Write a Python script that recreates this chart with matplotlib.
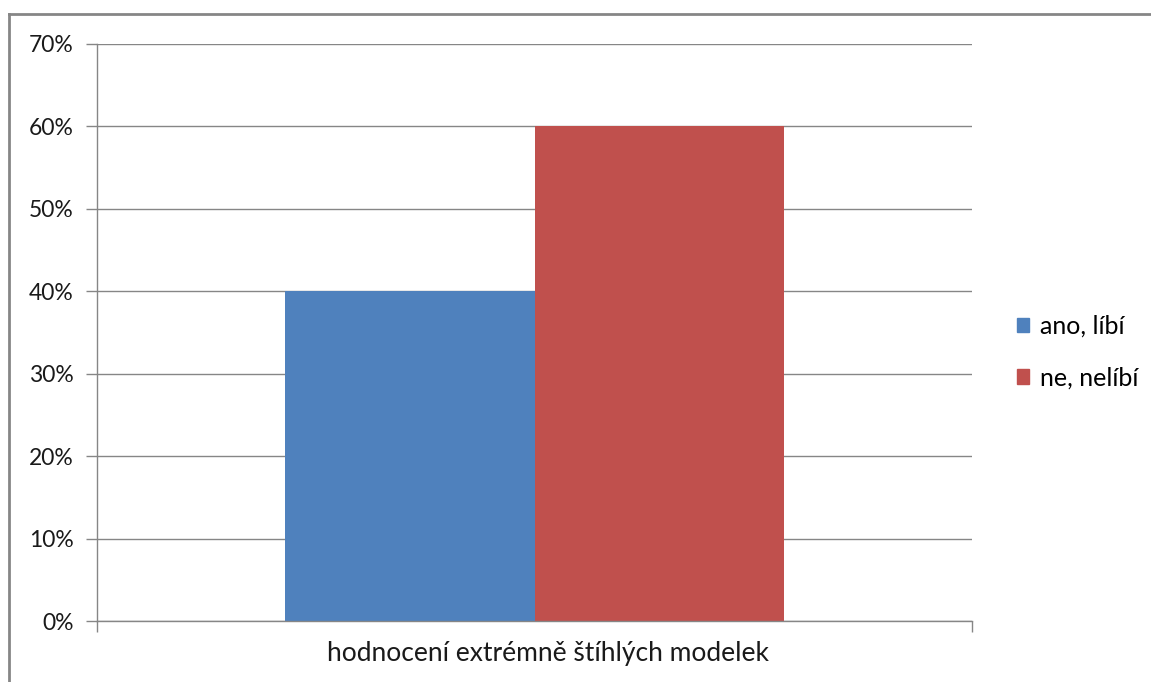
import matplotlib.pyplot as plt
from matplotlib.patches import Patch
from matplotlib.lines import Line2D
from matplotlib.ticker import FuncFormatter

category = 'hodnocení extrémně štíhlých modelek'
series = ['ano, líbí', 'ne, nelíbí']
values = [0.40, 0.60]
colors = ['#4F81BD', '#C0504D']

plt.rcParams['font.family'] = ['Lato', 'DejaVu Sans']
grid_col = '#868686'
txt_col = '#1a1a1a'

fig = plt.figure(figsize=(11.51, 6.82), dpi=100)
ax = fig.add_axes([97/1151, 1-621/682, (972-97)/1151, (621-44)/682])

# two clustered bars around the single category
bw = 0.285
for i, (name, v, c) in enumerate(zip(series, values, colors)):
    ax.bar(0.5 + (i - 0.5) * bw, v, width=bw, color=c, label=name, zorder=2)

ax.set_xlim(0, 1)
ax.set_ylim(0, 0.7)
ax.set_yticks([i/10 for i in range(8)])
ax.yaxis.set_major_formatter(FuncFormatter(lambda y, _: f'{y*100:.0f}%'))
ax.grid(axis='y', color=grid_col, lw=1, zorder=0)
ax.set_xticks([0, 1])
ax.set_xticklabels(['', ''])
ax.text(0.515, -0.035, category, transform=ax.transAxes, ha='center', va='top', fontsize=19, color=txt_col)

for s in ['top', 'right']:
    ax.spines[s].set_visible(False)
for s in ['left', 'bottom']:
    ax.spines[s].set_color(grid_col)
    ax.spines[s].set_linewidth(1)
ax.tick_params(axis='both', color=grid_col, length=8, width=1, labelsize=16.5, labelcolor=txt_col)
ax.tick_params(axis='y', pad=9)

handles = [Patch(color=c) for c in colors]
fig.legend(handles, series, loc='center left', bbox_to_anchor=(994/1151, 1-352/682),
           frameon=False, fontsize=18, handlelength=0.5, handleheight=0.5,
           handletextpad=0.45, labelspacing=1.15)

# outer chart frame (top and left edges)
fig.add_artist(Line2D([9/1151, 9/1151], [0, 1-14/682], transform=fig.transFigure, color=grid_col, lw=2))
fig.add_artist(Line2D([9/1151, 1], [1-14/682, 1-14/682], transform=fig.transFigure, color=grid_col, lw=2))

fig.savefig('out.png', dpi=100)
